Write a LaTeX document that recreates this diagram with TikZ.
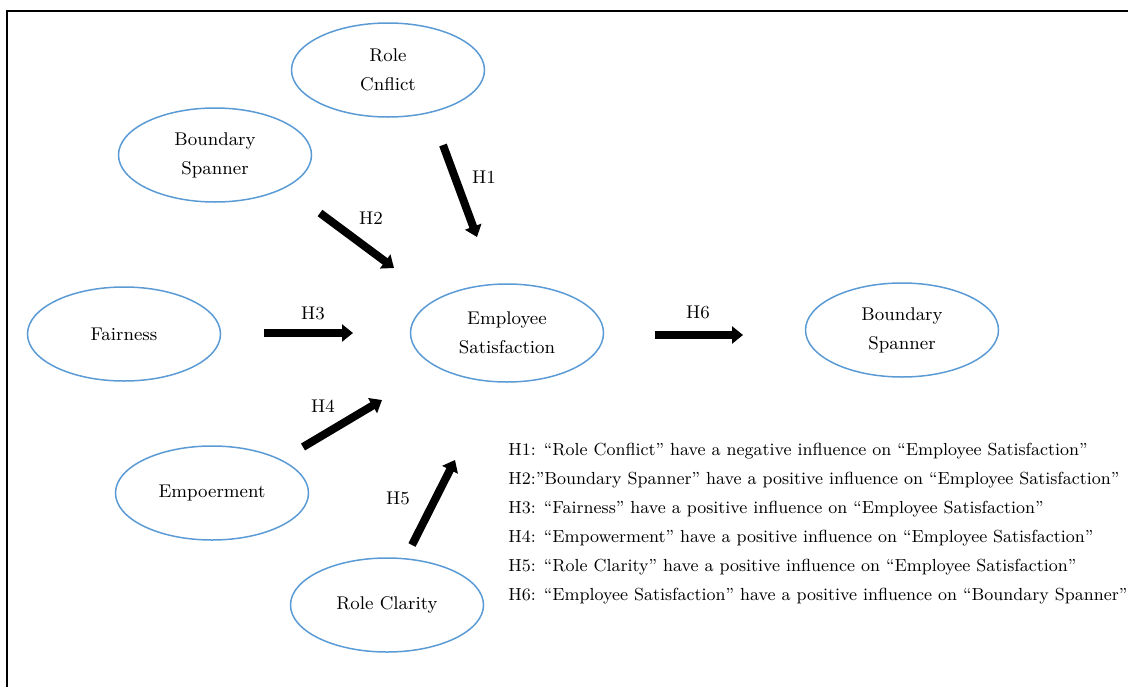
\documentclass[tikz,border=0pt]{standalone}
\usetikzlibrary{shapes.geometric,arrows.meta}
\definecolor{ovalblue}{RGB}{91,155,213}

\tikzset{
	oval/.style={draw=ovalblue, line width=0.75pt, ellipse, minimum width=96.5pt, minimum height=47pt, inner sep=0pt, align=center, font=\fontsize{9.2}{14.5}\selectfont},
	hyparrow/.style={line width=4pt, -{Triangle[length=5.5pt,width=8.5pt]}},
	hlabel/.style={font=\fontsize{9.2}{11}\selectfont, inner sep=0pt}
}

\begin{document}
\begin{tikzpicture}[x=0.5pt,y=-0.5pt]
		\useasboundingbox (0,0) rectangle (1128,686);
		\draw[line width=1pt] (7,11) rectangle (1140,700);

		% constructs
		\node[oval] (rc) at (388,70) {Role\\Cnflict};
		\node[oval] (bs) at (215,155) {Boundary\\Spanner};
		\node[oval] (fa) at (124,334) {Fairness};
		\node[oval] (em) at (212,493) {Empoerment};
		\node[oval] (cl) at (387,605) {Role Clarity};
		\node[oval, minimum height=49pt] (es) at (507,333) {Employee\\Satisfaction};
		\node[oval] (bs2) at (902,330) {Boundary\\Spanner};

		% arrow ends
		\coordinate (h1a) at (443,145); \coordinate (h1b) at (477,237);
		\coordinate (h2a) at (320,213); \coordinate (h2b) at (394,268);
		\coordinate (h3a) at (264,333); \coordinate (h3b) at (353,333);
		\coordinate (h4a) at (303,447); \coordinate (h4b) at (382,400);
		\coordinate (h5a) at (412,545); \coordinate (h5b) at (455,460);
		\coordinate (h6a) at (655,335); \coordinate (h6b) at (743,335);

		\path[hyparrow]
		(h1a) edge (h1b)
		(h2a) edge (h2b)
		(h3a) edge (h3b)
		(h4a) edge (h4b)
		(h5a) edge (h5b)
		(h6a) edge (h6b)
		;

		\node[hlabel] (l1) at (484,177) {H1};
		\node[hlabel] (l2) at (371,218) {H2};
		\node[hlabel] (l3) at (313,313) {H3};
		\node[hlabel] (l4) at (323,406) {H4};
		\node[hlabel] (l5) at (398,498) {H5};
		\node[hlabel] (l6) at (698,312) {H6};

		% hypotheses
		\node[anchor=north west, align=left, inner sep=0pt, font=\fontsize{8.75}{14.5}\selectfont] (hyp) at (508,443)
		{H1: “Role Conflict” have a negative influence on “Employee Satisfaction”\\
		H2:”Boundary Spanner” have a positive influence on “Employee Satisfaction”\\
		H3: “Fairness” have a positive influence on “Employee Satisfaction”\\
		H4: “Empowerment” have a positive influence on “Employee Satisfaction”\\
		H5: “Role Clarity” have a positive influence on “Employee Satisfaction”\\
		H6: “Employee Satisfaction” have a positive influence on “Boundary Spanner”};
\end{tikzpicture}
\end{document}
